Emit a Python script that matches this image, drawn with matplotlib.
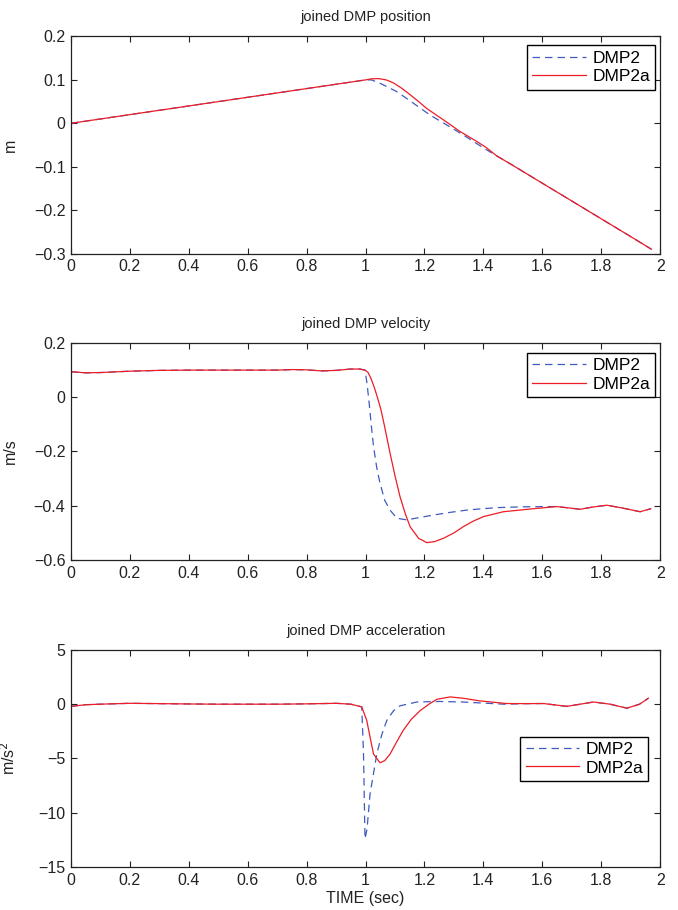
import matplotlib as mpl
mpl.use('Agg')
import matplotlib.pyplot as plt
import numpy as np

plt.rcParams['font.family'] = ['Liberation Sans', 'DejaVu Sans']
plt.rcParams['axes.unicode_minus'] = True

blue = '#3f5bbf'
red = '#ee1c25'

# --- position (m) ---
t_pos_early = [0, 0.2, 0.4, 0.6, 0.8, 1.0]
p_pos_early = [0, 0.02, 0.04, 0.06, 0.08, 0.1]
t_pos2 = [1.02, 1.05, 1.106, 1.163, 1.219, 1.276, 1.332, 1.394]
p_pos2 = [0.1, 0.092, 0.073, 0.046, 0.019, -0.004, -0.027, -0.054]
t_pos2a = [1.02, 1.044, 1.07, 1.095, 1.12, 1.151, 1.18, 1.208, 1.264, 1.321, 1.378, 1.41]
p_pos2a = [0.1025, 0.103, 0.1, 0.093, 0.082, 0.066, 0.05, 0.034, 0.008, -0.019, -0.042, -0.056]
t_pos_tail = [1.445, 1.5, 1.6, 1.7, 1.8, 1.9, 1.97]
p_pos_tail = [-0.075, -0.097, -0.138, -0.179, -0.220, -0.261, -0.290]

# --- velocity (m/s) ---
t_vel_early = [0, 0.05, 0.1, 0.2, 0.3, 0.4, 0.5, 0.6, 0.7, 0.75, 0.8, 0.85, 0.9, 0.95, 0.98, 0.998]
v_vel_early = [0.094, 0.09, 0.091, 0.096, 0.099, 0.1, 0.1, 0.1, 0.1, 0.102, 0.101, 0.097, 0.099, 0.104, 0.104, 0.1]
t_vel2 = [1.005, 1.012, 1.02, 1.027, 1.038, 1.049, 1.065, 1.083, 1.106, 1.14, 1.2, 1.276, 1.35,
          1.445, 1.53, 1.615]
v_vel2 = [0.05, -0.02, -0.11, -0.182, -0.26, -0.317, -0.38, -0.416, -0.446, -0.452, -0.44, -0.426,
          -0.415, -0.407, -0.404, -0.403]
t_vel2a = [1.008, 1.018, 1.03, 1.04, 1.052, 1.065, 1.083, 1.1, 1.117, 1.135, 1.151, 1.18, 1.208,
           1.235, 1.264, 1.3, 1.332, 1.365, 1.4, 1.468, 1.559]
v_vel2a = [0.092, 0.07, 0.035, 0.0, -0.045, -0.11, -0.206, -0.29, -0.367, -0.43, -0.477, -0.52,
           -0.536, -0.532, -0.52, -0.5, -0.477, -0.457, -0.44, -0.422, -0.412]
t_vel_tail = [1.649, 1.69, 1.728, 1.77, 1.819, 1.87, 1.932, 1.968]
v_vel_tail = [-0.403, -0.408, -0.413, -0.405, -0.398, -0.408, -0.422, -0.411]

# --- acceleration (m/s^2) ---
t_acc_early = [0, 0.05, 0.1, 0.2, 0.3, 0.4, 0.5, 0.6, 0.7, 0.8, 0.9, 0.95, 0.987]
a_acc_early = [-0.2, -0.05, 0.0, 0.08, 0.05, 0.02, 0.0, 0.0, 0.0, 0.03, 0.08, 0.0, -0.25]
t_acc2 = [0.993, 0.998, 1.005, 1.015, 1.038, 1.055, 1.072, 1.095, 1.117, 1.174, 1.25, 1.33, 1.4,
          1.47, 1.55]
a_acc2 = [-4.6, -12.4, -11.5, -8.3, -4.6, -2.8, -1.5, -0.6, -0.15, 0.2, 0.25, 0.2, 0.1, 0.0, 0.05]
t_acc2a = [1.004, 1.015, 1.027, 1.049, 1.065, 1.083, 1.105, 1.128, 1.155, 1.185, 1.215, 1.242, 1.287,
           1.33, 1.389, 1.479, 1.55]
a_acc2a = [-1.5, -3.0, -4.6, -5.4, -5.2, -4.6, -3.5, -2.4, -1.4, -0.6, 0.0, 0.45, 0.67, 0.55, 0.3,
           0.06, 0.05]
t_acc_tail = [1.604, 1.683, 1.774, 1.83, 1.887, 1.93, 1.96]
a_acc_tail = [0.06, -0.2, 0.2, 0.0, -0.37, 0.0, 0.55]

panels = [
    ('joined DMP position', 'm',
     (t_pos_early, p_pos_early), (t_pos2, p_pos2), (t_pos2a, p_pos2a), (t_pos_tail, p_pos_tail),
     (-0.3, 0.2), np.arange(-0.3, 0.21, 0.1), (0.9915, 0.9585)),
    ('joined DMP velocity', 'm/s',
     (t_vel_early, v_vel_early), (t_vel2, v_vel2), (t_vel2a, v_vel2a), (t_vel_tail, v_vel_tail),
     (-0.6, 0.2), np.arange(-0.6, 0.21, 0.2), (0.9915, 0.954)),
    ('joined DMP acceleration', 'm/s$^2$',
     (t_acc_early, a_acc_early), (t_acc2, a_acc2), (t_acc2a, a_acc2a), (t_acc_tail, a_acc_tail),
     (-15, 5), np.arange(-15, 6, 5), (0.98, 0.601)),
]


def fmt(v, p):
    s = '%g' % round(v, 2)
    return s.replace('-', '\u2212')


fig = plt.figure(figsize=(6.78, 9.10), dpi=100)
bottoms = [0.7214, 0.3846, 0.0473]
h = 0.2385

for i, (title, ylab, early, s2, s2a, tail, ylim, yticks, lpos) in enumerate(panels):
    ax = fig.add_axes([0.1047, bottoms[i], 0.869, h])
    x2 = early[0] + s2[0] + tail[0]
    y2 = early[1] + s2[1] + tail[1]
    x2a = early[0] + s2a[0] + tail[0]
    y2a = early[1] + s2a[1] + tail[1]
    ax.plot(x2, y2, '--', color=blue, lw=0.9, dashes=(6, 4), label='DMP2')
    ax.plot(x2a, y2a, '-', color=red, lw=0.9, label='DMP2a')
    ax.set_xlim(0, 2)
    ax.set_ylim(*ylim)
    ax.set_xticks(np.arange(0, 2.01, 0.2))
    ax.set_yticks(yticks)
    ax.xaxis.set_major_formatter(mpl.ticker.FuncFormatter(fmt))
    ax.yaxis.set_major_formatter(mpl.ticker.FuncFormatter(fmt))
    ax.tick_params(direction='in', top=True, right=True, length=4, width=0.8,
                   labelsize=11.5, colors='#222222', pad=4)
    for s in ax.spines.values():
        s.set_linewidth(0.9)
        s.set_color('#222222')
    ax.set_title(title, fontsize=10.5, pad=11, color='#222222')
    ax.set_ylabel(ylab, fontsize=11.5, color='#222222')
    ax.yaxis.set_label_coords(-0.09, 0.5)
    leg = ax.legend(loc='upper right', bbox_to_anchor=lpos, borderaxespad=0, fontsize=12.5,
                    handlelength=3.1, handletextpad=0.35, labelspacing=0.2, borderpad=0.3,
                    fancybox=False, framealpha=1)
    leg.get_frame().set_edgecolor('black')
    leg.get_frame().set_linewidth(1.0)
    if i == 2:
        ax.set_xlabel('TIME (sec)', fontsize=11.5, color='#222222')
        ax.xaxis.set_label_coords(0.5, -0.11)

fig.savefig('out.png', dpi=100)
